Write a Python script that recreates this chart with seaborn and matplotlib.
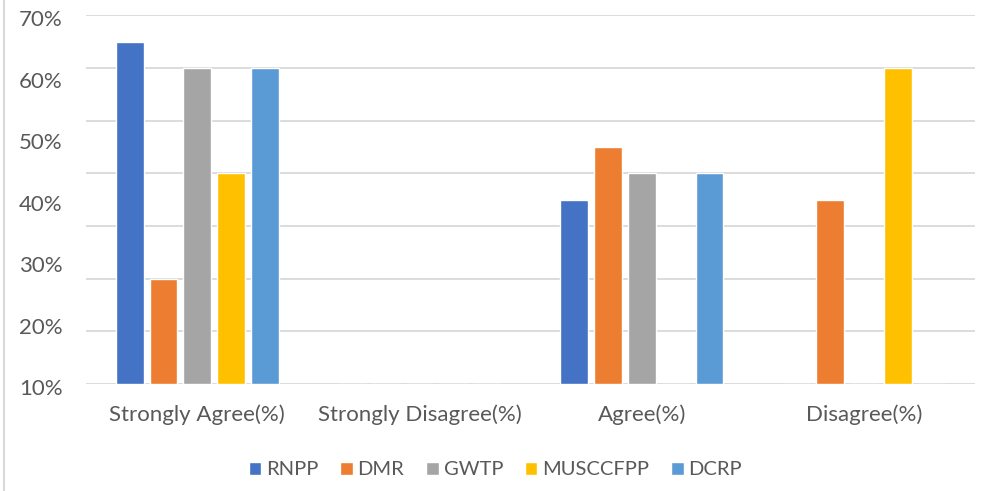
import pandas as pd
import matplotlib.pyplot as plt
import matplotlib.transforms as mtransforms
import seaborn as sns

categories = ['Strongly Agree(%)', 'Strongly Disagree(%)', 'Agree(%)', 'Disagree(%)']
series = ['RNPP', 'DMR', 'GWTP', 'MUSCCFPP', 'DCRP']
values = {
    'RNPP':     [65, 0, 35, 0],
    'DMR':      [20, 0, 45, 35],
    'GWTP':     [60, 0, 40, 0],
    'MUSCCFPP': [40, 0, 0, 60],
    'DCRP':     [60, 0, 40, 0],
}
colors = ['#4472C4', '#ED7D31', '#A5A5A5', '#FFC000', '#5B9BD5']
# labels shown on the y axis (10%..70%), spread over the 0..70 grid
ytick_labels = [10, 20, 30, 40, 50, 60, 70]

rows = []
for s in series:
    for c, v in zip(categories, values[s]):
        rows.append({'category': c, 'series': s, 'value': v})
df = pd.DataFrame(rows)

sns.set_style('white')
plt.rcParams['font.family'] = ['Lato', 'DejaVu Sans']

fig = plt.figure(figsize=(9.91, 4.91), dpi=100)
ax = fig.add_axes([0.087, 0.218, 0.897, 0.751])

sns.barplot(data=df, x='category', y='value', hue='series', hue_order=series,
            order=categories, palette=colors, width=0.76, gap=0.18,
            saturation=1, ax=ax, legend=True)

ax.set_ylim(0, 70)
ax.set_yticks(range(0, 71, 10))
ax.yaxis.grid(True, color='#d9d9d9', linewidth=1.3)
ax.set_axisbelow(True)
ax.tick_params(axis='y', labelleft=False, length=0)
ax.tick_params(axis='x', length=0, pad=15, labelsize=16, labelcolor='#595959')
ax.set_xlabel('')
ax.set_ylabel('')
for sp in ax.spines.values():
    sp.set_visible(False)

sec = ax.secondary_yaxis('left', functions=(lambda d: 10 + d * 60 / 70,
                                           lambda v: (v - 10) * 70 / 60))
sec.set_yticks(ytick_labels)
sec.set_yticklabels([f'{v}%' for v in ytick_labels])
sec.tick_params(length=0, pad=17, labelsize=16, labelcolor='#595959')
sec.spines['left'].set_visible(False)
shift = mtransforms.ScaledTranslation(0, -3 / 100, fig.dpi_scale_trans)
for lbl in sec.get_yticklabels():
    lbl.set_transform(lbl.get_transform() + shift)

ax.legend(loc='center', bbox_to_anchor=(0.5, 0.043), bbox_transform=fig.transFigure,
          ncol=5, frameon=False,
          fontsize=14.5, labelcolor='#595959', handlelength=0.6, handleheight=0.6,
          handletextpad=0.25, columnspacing=1.1)

fig.add_artist(plt.Line2D([0.004, 0.004], [0, 1], color='#d9d9d9', linewidth=1.5,
                          transform=fig.transFigure))

plt.savefig('out.png', dpi=100)
